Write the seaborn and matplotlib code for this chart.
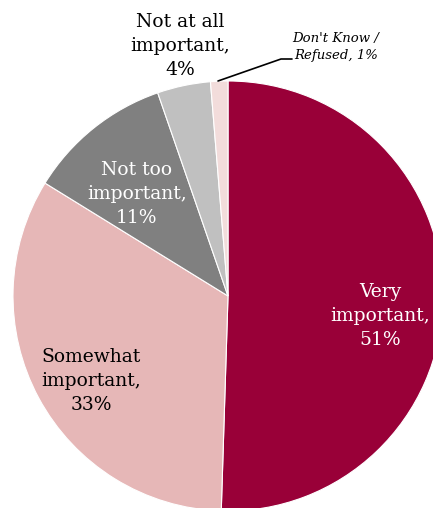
import matplotlib
matplotlib.use("Agg")
import matplotlib.pyplot as plt
import seaborn as sns

categories = ["Very important", "Somewhat important", "Not too important",
              "Not at all important", "Don't Know / Refused"]
values = [50.5, 33.3, 10.9, 4.0, 1.3]
label_texts = ["Very\nimportant,\n51%", "Somewhat\nimportant,\n33%",
               "Not too\nimportant,\n11%", "Not at all\nimportant,\n4%",
               "Don't Know /\nRefused, 1%"]
colors = ["#990038", "#E6B7B7", "#808080", "#C0C0C0", "#F2DCDB"]

sns.set_theme(style="white")
plt.rcParams['font.family'] = ['DejaVu Serif']

W, H = 433, 508
fig = plt.figure(figsize=(W / 100, H / 100), dpi=100)
cx, cy, R = 228, 296, 215
ax = fig.add_axes([(cx - R) / W, (H - cy - R) / H, 2 * R / W, 2 * R / H])
wedges, _ = ax.pie(values, colors=sns.color_palette(colors), startangle=90,
                   counterclock=False, radius=1,
                   wedgeprops=dict(edgecolor="white", linewidth=0.8))
for w in wedges:
    w.set_clip_on(False)
ax.set_xlim(-1, 1)
ax.set_ylim(-1, 1)
ax.set_aspect("equal")
ax.axis("off")

def fx(px):
    return px / W

def fy(py):
    return 1 - py / H

fs = 13.5
ls = 1.4
fig.text(fx(380), fy(316), label_texts[0], color="white", fontsize=fs,
         ha="center", va="center", linespacing=ls)
fig.text(fx(91), fy(381), label_texts[1], color="black", fontsize=fs,
         ha="center", va="center", linespacing=ls)
fig.text(fx(137), fy(194), label_texts[2], color="white", fontsize=fs,
         ha="center", va="center", linespacing=ls)
fig.text(fx(180), fy(46), label_texts[3], color="black", fontsize=fs,
         ha="center", va="center", linespacing=ls)
fig.text(fx(336), fy(47), label_texts[4], color="black", fontsize=9.5,
         style="italic", ha="center", va="center", linespacing=1.45)
fig.add_artist(plt.Line2D([fx(218), fx(281), fx(292)],
                          [fy(81), fy(59), fy(59)], color="black", lw=1.2))

fig.savefig("out.png", dpi=100)
